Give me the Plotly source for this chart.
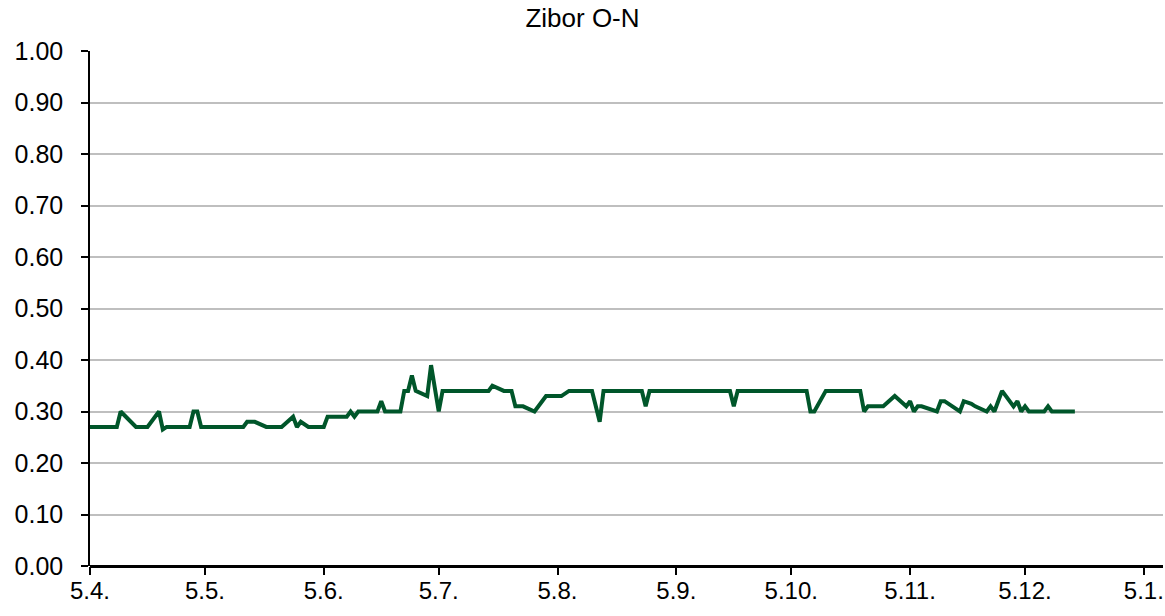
import plotly.graph_objects as go

# Zibor O-N daily fixing (vertices of the line)
dates = [
    "2014-04-05", "2014-04-12", "2014-04-13", "2014-04-17", "2014-04-20", "2014-04-23", "2014-04-24", "2014-04-25",
    "2014-05-01", "2014-05-02", "2014-05-03", "2014-05-04", "2014-05-15", "2014-05-16", "2014-05-18", "2014-05-21",
    "2014-05-25", "2014-05-28", "2014-05-29", "2014-05-30", "2014-06-01", "2014-06-05", "2014-06-06", "2014-06-11",
    "2014-06-12", "2014-06-13", "2014-06-14", "2014-06-19", "2014-06-20", "2014-06-21", "2014-06-25", "2014-06-26",
    "2014-06-27", "2014-06-28", "2014-06-29", "2014-07-02", "2014-07-03", "2014-07-05", "2014-07-06", "2014-07-18",
    "2014-07-19", "2014-07-22", "2014-07-24", "2014-07-25", "2014-07-27", "2014-07-30", "2014-08-02", "2014-08-06",
    "2014-08-08", "2014-08-14", "2014-08-16", "2014-08-17", "2014-08-27", "2014-08-28", "2014-08-29", "2014-09-19",
    "2014-09-20", "2014-09-21", "2014-10-09", "2014-10-10", "2014-10-11", "2014-10-14", "2014-10-23", "2014-10-24",
    "2014-10-25", "2014-10-29", "2014-11-01", "2014-11-04", "2014-11-05", "2014-11-06", "2014-11-07", "2014-11-08",
    "2014-11-12", "2014-11-13", "2014-11-14", "2014-11-18", "2014-11-19", "2014-11-21", "2014-11-22", "2014-11-25",
    "2014-11-26", "2014-11-27", "2014-11-29", "2014-12-01", "2014-12-02", "2014-12-03", "2014-12-04", "2014-12-05",
    "2014-12-06", "2014-12-10", "2014-12-11", "2014-12-12", "2014-12-18",
]
rates = [
    0.27, 0.27, 0.30, 0.27, 0.27, 0.30, 0.265, 0.27,
    0.27, 0.30, 0.30, 0.27, 0.27, 0.28, 0.28, 0.27,
    0.27, 0.29, 0.27, 0.28, 0.27, 0.27, 0.29, 0.29,
    0.30, 0.29, 0.30, 0.30, 0.32, 0.30, 0.30, 0.34,
    0.34, 0.37, 0.34, 0.33, 0.39, 0.30, 0.34, 0.34,
    0.35, 0.34, 0.34, 0.31, 0.31, 0.30, 0.33, 0.33,
    0.34, 0.34, 0.28, 0.34, 0.34, 0.31, 0.34, 0.34,
    0.31, 0.34, 0.34, 0.30, 0.30, 0.34, 0.34, 0.30,
    0.31, 0.31, 0.33, 0.31, 0.32, 0.30, 0.31, 0.31,
    0.30, 0.32, 0.32, 0.30, 0.32, 0.315, 0.31, 0.30,
    0.31, 0.30, 0.34, 0.32, 0.31, 0.32, 0.30, 0.31,
    0.30, 0.30, 0.31, 0.30, 0.30,
]

tick_dates = ["2014-04-05", "2014-05-05", "2014-06-05", "2014-07-05", "2014-08-05",
              "2014-09-05", "2014-10-05", "2014-11-05", "2014-12-05", "2015-01-05"]
tick_labels = ["5.4.", "5.5.", "5.6.", "5.7.", "5.8.", "5.9.", "5.10.", "5.11.", "5.12.", "5.1."]
y_ticks = [0.0, 0.1, 0.2, 0.3, 0.4, 0.5, 0.6, 0.7, 0.8, 0.9, 1.0]
y_labels = ["%.2f" % v for v in y_ticks]

fig = go.Figure()
fig.add_trace(go.Scatter(
    x=dates, y=rates, mode="lines",
    line=dict(color="#00562a", width=4),
    showlegend=False, hoverinfo="x+y",
))

font_family = "Liberation Sans, Arial, sans-serif"
fig.update_layout(
    width=1165, height=616,
    margin=dict(l=90, r=2, t=51, b=50, autoexpand=False),
    paper_bgcolor="white", plot_bgcolor="white",
    title=dict(text="Zibor O-N", x=0.5, xanchor="center", xref="container",
               y=1 - 18 / 616, yanchor="middle",
               font=dict(family=font_family, size=26, color="black")),
    font=dict(family=font_family, size=25, color="black"),
)
fig.update_xaxes(
    type="date",
    range=["2014-04-05", "2015-01-10"],
    tickmode="array", tickvals=tick_dates, ticktext=tick_labels,
    ticks="outside", ticklen=8, tickwidth=1.5, tickcolor="black",
    showline=False, showgrid=False, zeroline=False, automargin=False,
    tickfont=dict(size=24, family=font_family, color="black"),
    ticklabelstandoff=-5,
)
fig.update_yaxes(
    range=[0, 1.0],
    tickmode="array", tickvals=y_ticks, ticktext=y_labels,
    ticks="outside", ticklen=7, tickwidth=2, tickcolor="black",
    showline=True, linecolor="black", linewidth=1.5,
    showgrid=True, gridcolor="#bfbfbf", gridwidth=2,
    zeroline=True, zerolinecolor="black", zerolinewidth=3,
    automargin=False,
    tickfont=dict(size=25, family=font_family, color="black"),
    ticklabelstandoff=13,
)

# remove the default 8px page margin so the figure fills the window exactly
fig.write_html(
    "out.html",
    config={"displayModeBar": False},
    post_script="document.body.style.margin='0';document.body.style.overflow='hidden';",
)
